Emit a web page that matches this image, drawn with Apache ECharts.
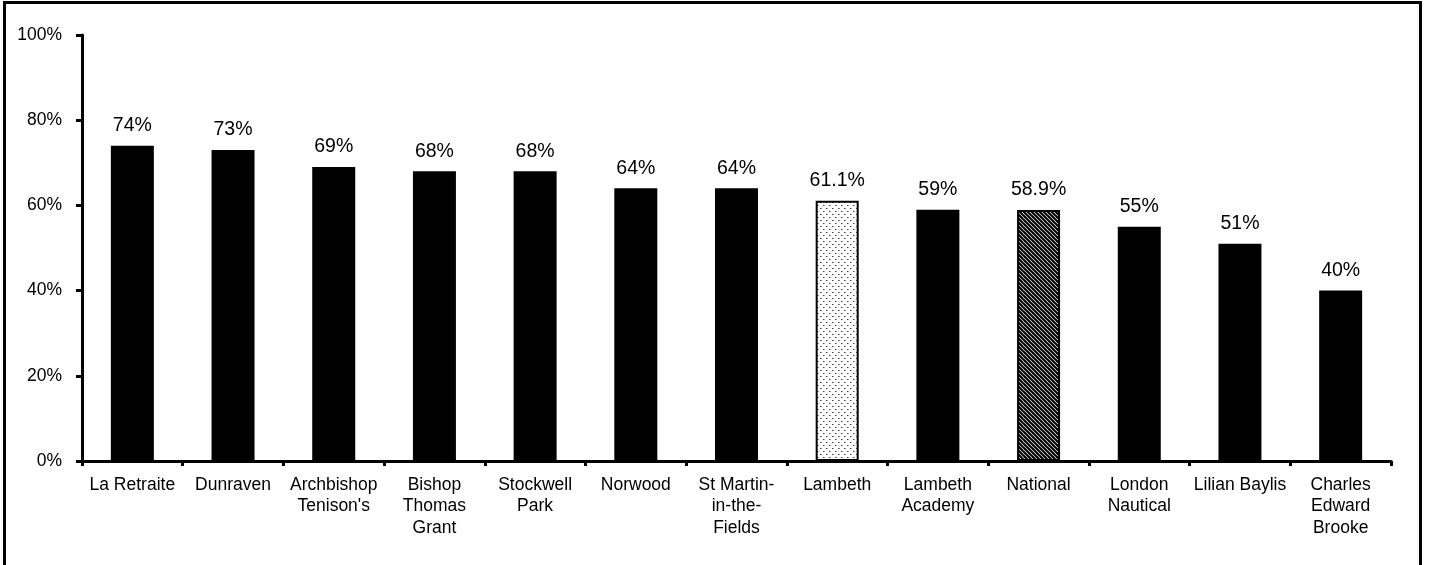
<!DOCTYPE html>
<html>
<head>
<meta charset="utf-8">
<script src="https://cdn.jsdelivr.net/npm/echarts@6/dist/echarts.min.js"></script>
<style>
html,body{margin:0;padding:0;background:#fff;}
#c{width:1429px;height:565px;}
</style>
</head>
<body>
<div id="c"></div>
<script>
const categories = ["La Retraite","Dunraven","Archbishop\nTenison's","Bishop\nThomas\nGrant","Stockwell\nPark","Norwood","St Martin-\nin-the-\nFields","Lambeth","Lambeth\nAcademy","National","London\nNautical","Lilian Baylis","Charles\nEdward\nBrooke"];
const values = [74,73,69,68,68,64,64,61.1,59,58.9,55,51,40];
const yTicks = [0,20,40,60,80,100];
const dottedCategory = "Lambeth";
const hatchedCategory = "National";

function dotPattern(){
  const c = document.createElement('canvas'); c.width = 6; c.height = 6;
  const g = c.getContext('2d');
  g.fillStyle = '#fff'; g.fillRect(0,0,6,6);
  g.fillStyle = '#444';
  g.fillRect(1,1,1,1); g.fillRect(4,4,1,1);
  g.fillStyle = '#999';
  g.fillRect(2,1,1,1); g.fillRect(5,4,1,1);
  return c;
}
function hatchPattern(){
  const s = 8;
  const c = document.createElement('canvas'); c.width = s; c.height = s;
  const g = c.getContext('2d');
  g.fillStyle = '#fff'; g.fillRect(0,0,s,s);
  g.strokeStyle = '#000'; g.lineWidth = 2.2;
  for (let k = -2; k <= 2; k++) {
    g.beginPath(); g.moveTo(k*4 - 4, -4); g.lineTo(k*4 + s + 4, s + 4); g.stroke();
  }
  return c;
}

const barData = categories.map((c, i) => {
  const item = { value: values[i] };
  if (c === dottedCategory) {
    item.itemStyle = { color: { image: dotPattern(), repeat: 'repeat' }, borderColor: '#000', borderWidth: 2 };
  } else if (c === hatchedCategory) {
    item.itemStyle = { color: { image: hatchPattern(), repeat: 'repeat' }, borderColor: '#000', borderWidth: 2 };
  }
  return item;
});

const chart = echarts.init(document.getElementById('c'), null, { renderer: 'canvas' });
chart.setOption({
  animation: false,
  backgroundColor: '#fff',
  textStyle: { fontFamily: 'Liberation Sans, Arial, sans-serif' },
  graphic: [{
    type: 'rect', silent: true,
    shape: { x: 4.5, y: 2.5, width: 1416, height: 600 },
    style: { fill: 'none', stroke: '#000', lineWidth: 3 }
  }],
  grid: { left: 82, right: 38, top: 35, bottom: 104, containLabel: false },
  xAxis: {
    type: 'category',
    data: categories,
    boundaryGap: true,
    axisLine: { lineStyle: { color: '#000', width: 3 } },
    axisTick: { show: true, length: 5, alignWithLabel: false, interval: 0, lineStyle: { color: '#000', width: 3 } },
    axisLabel: { interval: 0, color: '#000', fontSize: 17.5, lineHeight: 21.5, margin: 13, fontFamily: 'Liberation Sans' }
  },
  yAxis: {
    type: 'value',
    min: 0, max: 100, interval: 20,
    splitLine: { show: false },
    axisLine: { show: true, lineStyle: { color: '#000', width: 3 } },
    axisTick: { show: true, length: 6, lineStyle: { color: '#000', width: 3 } },
    axisLabel: { color: '#000', fontSize: 17.5, margin: 20, fontFamily: 'Liberation Sans',
      formatter: v => yTicks.includes(v) ? v + '%' : '' }
  },
  series: [{
    type: 'bar',
    data: barData,
    barWidth: 43,
    itemStyle: { color: '#000' },
    label: {
      show: true, position: 'top', distance: 10, color: '#000', fontSize: 19.5,
      fontFamily: 'Liberation Sans',
      formatter: p => p.value + '%'
    }
  }]
});
</script>
</body>
</html>
